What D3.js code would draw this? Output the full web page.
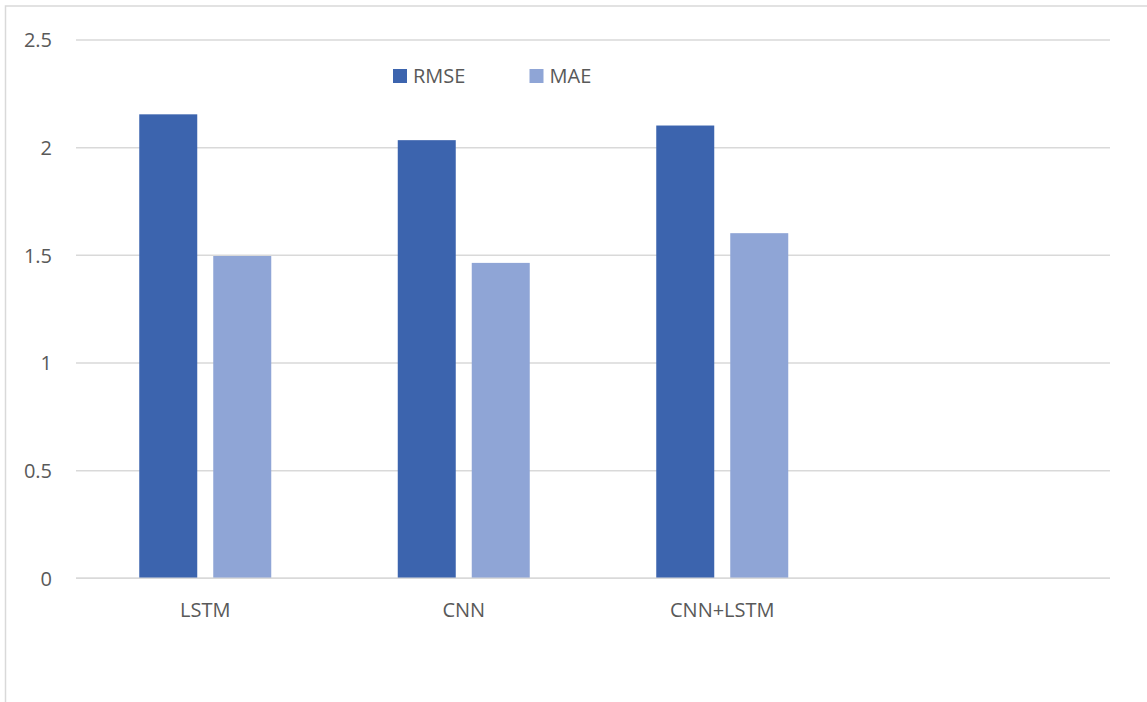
<!DOCTYPE html>
<html>
<head>
<meta charset="utf-8">
<script src="https://cdn.jsdelivr.net/npm/d3@7"></script>
<style>
  html, body { margin: 0; padding: 0; background: #ffffff; }
  svg { display: block; }
  text { font-family: "Open Sans", "Liberation Sans", sans-serif; fill: #595959; }
</style>
</head>
<body>
<svg id="chart" width="1147" height="702"></svg>
<script>
// ---- data ----
const categories = ["LSTM", "CNN", "CNN+LSTM"];
const seriesNames = ["RMSE", "MAE"];
const rmseValues = [2.155, 2.035, 2.103];
const maeValues = [1.497, 1.465, 1.603];
const yTicks = [0, 0.5, 1, 1.5, 2, 2.5];
const seriesColors = ["#3C64AE", "#8FA5D6"];

const svg = d3.select("#chart");
const W = 1147, H = 702;
const plot = { left: 76, right: 1110, top: 40.05, bottom: 578.3 };

// outer chart border (extends past the visible window on right/bottom)
svg.append("rect")
  .attr("x", 5.5).attr("y", 6).attr("width", W + 20).attr("height", H + 20)
  .attr("fill", "none").attr("stroke", "#D9D9D9").attr("stroke-width", 1.5);

const y = d3.scaleLinear().domain([0, 2.5]).range([plot.bottom, plot.top]);
const x0 = d3.scaleBand()
  .domain(categories.concat([" "]))
  .range([plot.left, plot.right])
  .paddingInner(0).paddingOuter(0);
const bw = x0.bandwidth();
const x1 = d3.scaleBand()
  .domain(seriesNames)
  .range([0, bw])
  .paddingInner(16 / 74)
  .paddingOuter(((bw / 74) - 2 + 16 / 74) / 2);

// gridlines
svg.append("g").selectAll("line")
  .data(yTicks)
  .join("line")
  .attr("x1", plot.left).attr("x2", plot.right)
  .attr("y1", d => y(d)).attr("y2", d => y(d))
  .attr("stroke", "#D9D9D9").attr("stroke-width", 1.5);

// y tick labels
svg.append("g").selectAll("text")
  .data(yTicks)
  .join("text")
  .attr("x", 52)
  .attr("y", d => y(d) + 7.3)
  .attr("text-anchor", "end")
  .attr("font-size", 20)
  .text(d => String(d));

// bars
const rows = categories.map((c, i) => ({ cat: c, RMSE: rmseValues[i], MAE: maeValues[i] }));
const groups = svg.append("g").selectAll("g")
  .data(rows)
  .join("g")
  .attr("transform", d => `translate(${x0(d.cat)},0)`);
groups.selectAll("rect")
  .data(d => seriesNames.map((s, j) => ({ s, v: d[s], c: seriesColors[j] })))
  .join("rect")
  .attr("x", d => x1(d.s))
  .attr("width", x1.bandwidth())
  .attr("y", d => y(d.v))
  .attr("height", d => y(0) - y(d.v))
  .attr("fill", d => d.c);

// redraw baseline over bars
svg.append("line")
  .attr("x1", plot.left).attr("x2", plot.right)
  .attr("y1", y(0)).attr("y2", y(0))
  .attr("stroke", "#D9D9D9").attr("stroke-width", 1.5);

// category labels
svg.append("g").selectAll("text")
  .data(categories)
  .join("text")
  .attr("x", d => x0(d) + bw / 2)
  .attr("y", 617)
  .attr("text-anchor", "middle")
  .attr("font-size", 20)
  .text(d => d);

// legend
const legendX = [393, 529.5];
const lg = svg.append("g").selectAll("g")
  .data(seriesNames)
  .join("g")
  .attr("transform", (d, i) => `translate(${legendX[i]},69)`);
lg.append("rect")
  .attr("width", 14).attr("height", 14)
  .attr("fill", (d, i) => seriesColors[i]);
lg.append("text")
  .attr("x", 20).attr("y", 13.5)
  .attr("font-size", 20)
  .text(d => d);
</script>
</body>
</html>
